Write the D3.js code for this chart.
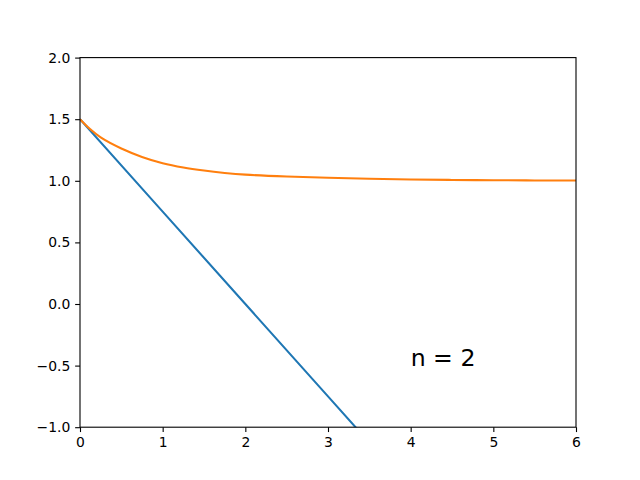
<!DOCTYPE html>
<html><head><meta charset="utf-8">
<script src="https://cdn.jsdelivr.net/npm/d3@7"></script>
<style>body{margin:0;background:#fff}svg{display:block}text{font-family:"DejaVu Sans",sans-serif}</style>
</head><body>
<svg id="c" width="640" height="480"></svg>
<script>
const xTicks = [0,1,2,3,4,5,6];
const yTicks = [-1.0,-0.5,0.0,0.5,1.0,1.5,2.0];
const blueX = [0,1,2,3,4,5,6];
const blueY = [1.5,0.75,0,-0.75,-1.5,-2.25,-3];
const orangeX = [0,0.125,0.25,0.5,0.75,1,1.25,1.5,1.75,2,2.5,3,3.5,4,4.5,5,5.5,6];
const orangeY = [1.5,1.418,1.352,1.262,1.194,1.143,1.108,1.083,1.064,1.050,1.0345,1.0244,1.0164,1.0107,1.007,1.0045,1.003,1.002];
const label = "n = 2";
const labelPos = [4,-0.5];

const svg = d3.select("#c");
const L=80,R=576,T=57.6,B=427.2;
const x = d3.scaleLinear().domain([0,6]).range([L,R]);
const y = d3.scaleLinear().domain([-1,2]).range([B,T]);
svg.append("defs").append("clipPath").attr("id","clip").append("rect")
  .attr("x",L).attr("y",T).attr("width",R-L).attr("height",B-T);
const line = d3.line().x(d=>x(d[0])).y(d=>y(d[1]));
const g = svg.append("g").attr("clip-path","url(#clip)");
g.append("path").datum(blueX.map((v,i)=>[v,blueY[i]])).attr("d",line)
  .attr("fill","none").attr("stroke","#1f77b4").attr("stroke-width",2.08);
g.append("path").datum(orangeX.map((v,i)=>[v,orangeY[i]])).attr("d",line.curve(d3.curveCatmullRom))
  .attr("fill","none").attr("stroke","#ff7f0e").attr("stroke-width",2.08);

const fmt = d=> (d<0?"\u2212":"")+Math.abs(d).toFixed(1);
const xa = svg.append("g").attr("transform",`translate(0,${B})`)
  .call(d3.axisBottom(x).tickValues(xTicks).tickFormat(d3.format("d")).tickSize(4.86).tickPadding(4.86));
const ya = svg.append("g").attr("transform",`translate(${L},0)`)
  .call(d3.axisLeft(y).tickValues(yTicks).tickFormat(fmt).tickSize(4.86).tickPadding(4.86));
[xa,ya].forEach(a=>{a.select(".domain").remove();a.selectAll("line").attr("stroke","#000").attr("stroke-width",1.1);
  a.selectAll("text").attr("font-size","13.9px").attr("fill","#000").attr("font-family","DejaVu Sans");});
svg.append("rect").attr("x",L).attr("y",T).attr("width",R-L).attr("height",B-T)
  .attr("fill","none").attr("stroke","#000").attr("stroke-width",1.1);
svg.append("text").attr("x",x(labelPos[0])).attr("y",y(labelPos[1]))
  .attr("font-size","23.6px").attr("fill","#000").text(label);
</script>
</body></html>
